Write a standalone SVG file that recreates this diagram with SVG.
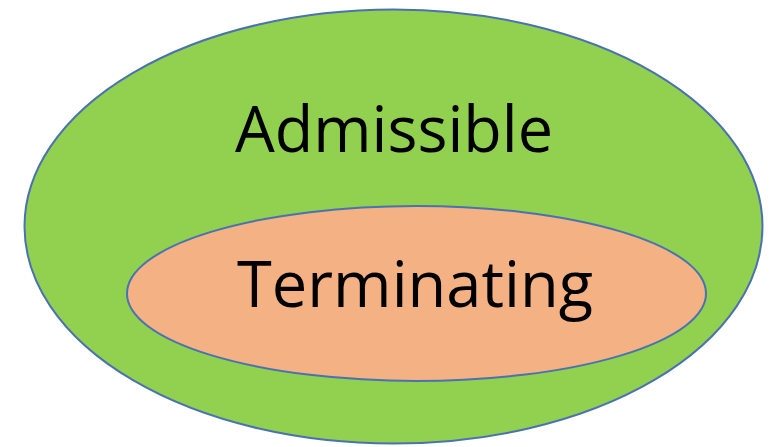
<svg xmlns="http://www.w3.org/2000/svg" width="774" height="447" viewBox="0 0 774 447">
<style>
.shape{stroke:#4A72B0;stroke-width:2}
.lbl{font-family:"Open Sans","Liberation Sans",sans-serif;font-size:64px;fill:#000;text-anchor:middle}
</style>
<rect width="774" height="447" fill="#fff"/>
<g id="admissible">
<ellipse class="shape" cx="393.5" cy="226.5" rx="369" ry="217" fill="#92D050"/>
<text class="lbl" x="394" y="152" textLength="318" lengthAdjust="spacingAndGlyphs">Admissible</text>
</g>
<g id="terminating">
<ellipse class="shape" cx="416.5" cy="293.5" rx="289.5" ry="87.5" fill="#F4B183"/>
<text class="lbl" x="415" y="307" textLength="356" lengthAdjust="spacingAndGlyphs">Terminating</text>
</g>
<g id="connectors"/>
</svg>
